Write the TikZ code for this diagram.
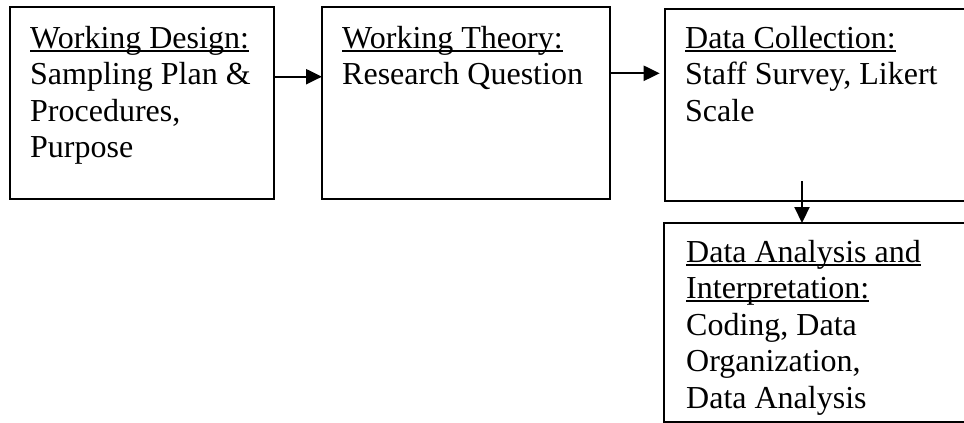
\documentclass[tikz,border=0pt]{standalone}
\usepackage{fontspec}
\setmainfont{Liberation Serif}
\usetikzlibrary{arrows.meta}
\newcommand\myul[1]{\setbox0\hbox{#1}\rlap{\rule[-3.6pt]{\wd0}{1.8pt}}\box0}
\begin{document}
\begin{tikzpicture}[x=1pt,y=-1pt,
  box/.style={draw, line width=2pt, rectangle, inner sep=0pt, outer sep=0pt, anchor=north west},
  txt/.style={anchor=base west, inner sep=0pt, align=left, font=\fontsize{32}{36.6}\selectfont},
  arr/.style={line width=2.2pt, -{Triangle[length=16pt,width=15pt]}}]
\useasboundingbox (0,0) rectangle (964,423);
\node[box, minimum width=264.3pt, minimum height=192pt] (b1) at (10,7) {};
\node[box, minimum width=288pt, minimum height=192pt] (b2) at (322,7) {};
\node[box, minimum width=320pt, minimum height=191.7pt] (b3) at (664.7,9.3) {};
\node[box, minimum width=320pt, minimum height=199.3pt] (b4) at (664.3,223) {};
% texts (base anchor = baseline of last line)
\node[txt] (t1) at (30,157.8) {\myul{Working Design:}\\Sampling Plan \&\\Procedures,\\Purpose};
\node[txt] (t2) at (342,84.6) {\myul{Working Theory:}\\Research Question};
\node[txt] (t3) at (685,121.2) {\myul{Data Collection:}\\Staff Survey, Likert\\Scale};
\node[txt] (t4) at (686,408.4) {\myul{Data Analysis and}\\\myul{Interpretation:}\\Coding, Data\\Organization,\\Data Analysis};
% connectors
\coordinate (y12) at (0,76.7);
\coordinate (y23) at (0,73.3);
\coordinate (s34) at (802,181);
\draw[arr] (b1.east |- y12) -- (b2.west |- y12);
\draw[arr, shorten >=5pt] (b2.east |- y23) -- (b3.west |- y23);
\draw[arr] (s34) -- (s34 |- b4.north);
\end{tikzpicture}
\end{document}
